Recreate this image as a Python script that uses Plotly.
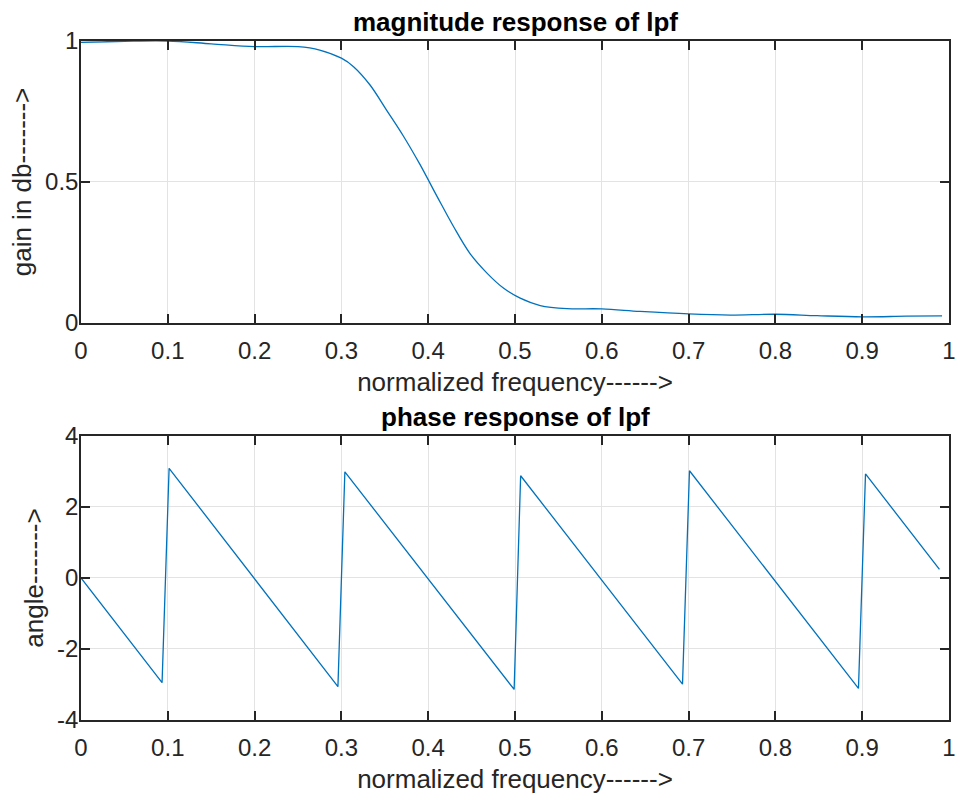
import plotly.graph_objects as go
from plotly.subplots import make_subplots

# magnitude response
mag_freq = [0, 0.05, 0.1, 0.15, 0.2, 0.25, 0.275, 0.3, 0.314, 0.333, 0.352, 0.371,
            0.39, 0.41, 0.429, 0.448, 0.468, 0.487, 0.506, 0.529, 0.56, 0.6,
            0.644, 0.7, 0.748, 0.8, 0.848, 0.9, 0.951, 0.992]
mag_gain = [0.995, 0.999, 1.0, 0.99, 0.98, 0.98, 0.968, 0.939, 0.909, 0.844, 0.755,
            0.665, 0.565, 0.450, 0.343, 0.247, 0.176, 0.123, 0.088, 0.062,
            0.051, 0.050, 0.041, 0.032, 0.028, 0.031, 0.026, 0.022, 0.024, 0.025]

# phase response vertices (wrapped sawtooth)
ph_freq = [0, 0.0934, 0.1015, 0.296, 0.304, 0.499, 0.5065, 0.693, 0.701, 0.8957, 0.9038, 0.989]
ph_angle = [0, -2.95, 3.09, -3.06, 2.99, -3.14, 2.88, -2.99, 3.02, -3.11, 2.93, 0.245]

x_ticks = [0, 0.1, 0.2, 0.3, 0.4, 0.5, 0.6, 0.7, 0.8, 0.9, 1]
x_tick_text = ["0", "0.1", "0.2", "0.3", "0.4", "0.5", "0.6", "0.7", "0.8", "0.9", "1"]
mag_ticks = [0, 0.5, 1]
mag_tick_text = ["0", "0.5", "1"]
ph_ticks = [-4, -2, 0, 2, 4]
ph_tick_text = ["-4", "-2", "0", "2", "4"]

FONT = "Liberation Sans, Arial, Helvetica, sans-serif"
AX = "#262626"
BLUE = "#0072BD"

fig = make_subplots(rows=2, cols=1,
                    subplot_titles=("<b>magnitude response of lpf</b>", "<b>phase response of lpf</b>"))

fig.add_trace(go.Scatter(x=mag_freq, y=mag_gain, mode="lines",
                         line=dict(color=BLUE, width=1.3, shape="spline", smoothing=1)),
              row=1, col=1)
fig.add_trace(go.Scatter(x=ph_freq, y=ph_angle, mode="lines",
                         line=dict(color=BLUE, width=1.3)),
              row=2, col=1)

axis_common = dict(showline=True, linecolor=AX, linewidth=1.5, mirror="ticks",
                   ticks="inside", ticklen=9, tickwidth=1.5, tickcolor=AX,
                   showgrid=True, gridcolor="#e3e3e3", gridwidth=1, zeroline=False,
                   automargin=False,
                   tickfont=dict(family=FONT, size=24, color=AX),
                   title_font=dict(family=FONT, size=26, color=AX))

fig.update_xaxes(axis_common)
fig.update_yaxes(axis_common)

for r in (1, 2):
    fig.update_xaxes(range=[0, 1], tickvals=x_ticks, ticktext=x_tick_text,
                     ticklabelstandoff=5,
                     title_text="normalized frequency------>", title_standoff=10,
                     row=r, col=1)

fig.update_yaxes(ticklabelstandoff=-4)
fig.update_yaxes(range=[0, 1], tickvals=mag_ticks, ticktext=mag_tick_text,
                 title_text="gain in db------->", title_standoff=6, row=1, col=1)
fig.update_yaxes(range=[-4, 4], tickvals=ph_ticks, ticktext=ph_tick_text,
                 title_text="angle------->", title_standoff=6, row=2, col=1)

fig.update_layout(
    width=959, height=795,
    margin=dict(l=81, r=10, t=41, b=75),
    paper_bgcolor="white", plot_bgcolor="white",
    showlegend=False,
    xaxis=dict(domain=[0, 1]), yaxis=dict(domain=[0.5847, 1]),
    xaxis2=dict(domain=[0, 1]), yaxis2=dict(domain=[0, 0.4183]),
    font=dict(family=FONT, color=AX),
)

for ann in fig.layout.annotations:
    ann.font = dict(family=FONT, size=26, color="#000000")
    ann.yshift = 2
fig.layout.annotations[0].y = 1.0
fig.layout.annotations[1].y = 0.4183

# drop the browser's default body margin so the figure fills the window exactly
fig.write_html("out.html", config={"displayModeBar": False},
               post_script="document.body.style.margin='0';")
